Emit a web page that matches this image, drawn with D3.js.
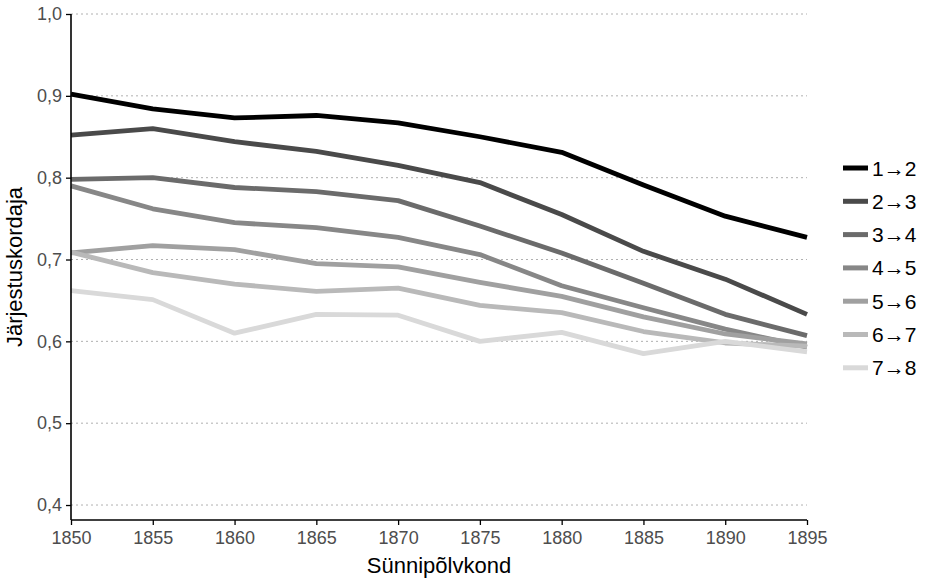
<!DOCTYPE html>
<html><head><meta charset="utf-8">
<script src="https://cdn.jsdelivr.net/npm/d3@7"></script>
<style>body{margin:0;background:#fff;} text{font-family:"Liberation Sans",Arial,sans-serif;}</style>
</head><body><svg id="c" width="925" height="580"></svg>
<script>
const years = [1850,1855,1860,1865,1870,1875,1880,1885,1890,1895];
const seriesNames = ["1→2","2→3","3→4","4→5","5→6","6→7","7→8"];
const s12 = [0.902,0.884,0.873,0.876,0.867,0.850,0.831,0.791,0.753,0.727];
const s23 = [0.852,0.860,0.844,0.832,0.815,0.794,0.755,0.710,0.676,0.633];
const s34 = [0.798,0.800,0.788,0.783,0.772,0.741,0.708,0.671,0.633,0.607];
const s45 = [0.790,0.762,0.745,0.739,0.727,0.706,0.668,0.641,0.615,0.593];
const s56 = [0.708,0.717,0.712,0.695,0.691,0.672,0.655,0.630,0.609,0.597];
const s67 = [0.709,0.684,0.670,0.661,0.665,0.644,0.635,0.612,0.598,0.594];
const s78 = [0.662,0.651,0.610,0.633,0.632,0.600,0.611,0.585,0.600,0.587];
const yTicks = [0.4,0.5,0.6,0.7,0.8,0.9,1.0];
const colors = ["#000000","#4a4a4a","#6b6b6b","#878787","#a0a0a0","#b9b9b9","#d9d9d9"];
const allSeries = [s12,s23,s34,s45,s56,s67,s78];

const svg = d3.select("#c");
const x = d3.scaleLinear().domain([1850,1895]).range([71,807]);
const y = d3.scaleLinear().domain([0.3817,1.0]).range([520,14]);

// grid
svg.append("g").selectAll("line").data(yTicks).join("line")
  .attr("x1",x(1850)).attr("x2",x(1895))
  .attr("y1",d=>y(d)).attr("y2",d=>y(d))
  .attr("stroke","#b0b0b0").attr("stroke-width",1).attr("stroke-dasharray","2,3");

// lines
const line = d3.line().x((d,i)=>x(years[i])).y(d=>y(d));
svg.append("g").selectAll("path").data(allSeries).join("path")
  .attr("d",line).attr("fill","none")
  .attr("stroke",(d,i)=>colors[i]).attr("stroke-width",4.8)
  .attr("stroke-linejoin","round");

// axes
const fmt = d3.format(".1f");
const yAxis = svg.append("g").attr("transform","translate(71,0)")
  .call(d3.axisLeft(y).tickValues(yTicks).tickSize(5).tickPadding(4).tickFormat(d=>fmt(d).replace(".",",")));
const xAxis = svg.append("g").attr("transform","translate(0,520)")
  .call(d3.axisBottom(x).tickValues(years).tickSize(5).tickPadding(6).tickFormat(d3.format("d")));
[yAxis,xAxis].forEach(a=>{
  a.select(".domain").attr("stroke","#000").attr("stroke-width",1.6);
  a.selectAll(".tick line").attr("stroke","#000").attr("stroke-width",1.3);
  a.selectAll(".tick text").attr("fill","#4d4d4d").attr("font-size",18)
   .attr("font-family","'Liberation Sans',Arial,sans-serif");
});
xAxis.select(".domain").attr("d","M71,0H807");
yAxis.select(".domain").attr("d","M0,14V520");

// titles
svg.append("text").attr("x",439).attr("y",573).attr("text-anchor","middle")
  .attr("font-size",22).attr("fill","#000").text("Sünnipõlvkond");
svg.append("text").attr("transform","translate(22,267) rotate(-90)").attr("text-anchor","middle")
  .attr("font-size",22).attr("fill","#000").text("Järjestuskordaja");

// legend
const lg = svg.append("g").selectAll("g").data(seriesNames).join("g")
  .attr("transform",(d,i)=>`translate(843,${168+i*33.3})`);
lg.append("line").attr("x1",0).attr("x2",25).attr("y1",0).attr("y2",0)
  .attr("stroke",(d,i)=>colors[i]).attr("stroke-width",5);
lg.append("text").attr("x",29).attr("y",7.5).attr("font-size",21).attr("fill","#000").text(d=>d);
</script></body></html>
